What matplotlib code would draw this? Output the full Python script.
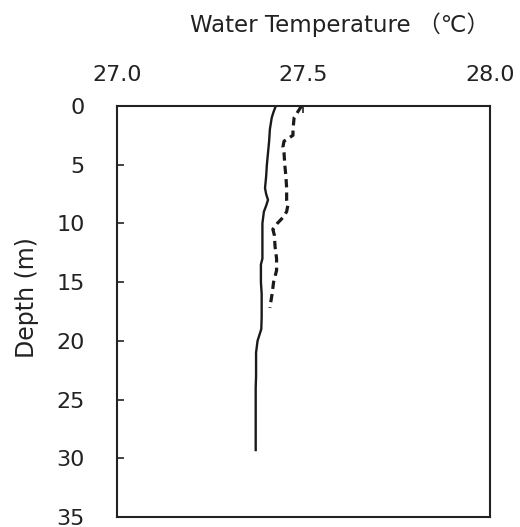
import matplotlib
matplotlib.use("Agg")
import matplotlib.pyplot as plt

plt.rcParams['font.family'] = ['DejaVu Sans', 'Noto Sans CJK JP']

# solid profile
depth_a = [0, 0.5, 1, 2, 3, 4, 5, 6, 7, 7.5, 8, 8.5, 9, 10, 11, 12, 13, 13.5, 14,
           15, 16, 17, 18, 19, 19.5, 20, 20.5, 21, 22, 23, 24, 25, 26, 27, 28, 29.3]
temp_a = [27.426, 27.42, 27.415, 27.41, 27.408, 27.405, 27.402, 27.40, 27.397, 27.40,
          27.405, 27.40, 27.394, 27.39, 27.39, 27.39, 27.39, 27.386, 27.386,
          27.386, 27.388, 27.388, 27.388, 27.387, 27.382, 27.377, 27.375, 27.373,
          27.373, 27.373, 27.372, 27.372, 27.372, 27.372, 27.372, 27.372]

# dashed profile
depth_b = [0, 0.5, 1, 2, 2.5, 3, 3.5, 4, 5, 6, 7, 8, 8.5, 9, 9.5, 10, 10.5, 11,
           12, 13, 14, 14.5, 15, 16, 17.2]
temp_b = [27.495, 27.485, 27.475, 27.472, 27.472, 27.448, 27.445, 27.448, 27.45,
          27.453, 27.455, 27.455, 27.458, 27.455, 27.445, 27.43, 27.418, 27.422,
          27.424, 27.428, 27.428, 27.424, 27.42, 27.416, 27.41]

xticks = [27.0, 27.5, 28.0]
yticks = [0, 5, 10, 15, 20, 25, 30, 35]

fig = plt.figure(figsize=(5.2, 5.27), dpi=100)
ax = fig.add_axes([0.225, 0.019, 0.717, 0.780])

ax.plot(temp_a, depth_a, color='#1a1a1a', lw=1.7)
ax.plot(temp_b, depth_b, color='#1a1a1a', lw=2.3, linestyle=(0, (2.6, 1.6)))

ax.set_xlim(27.0, 28.0)
ax.set_ylim(35, 0)
ax.set_xticks(xticks)
ax.set_xticklabels([f"{t:.1f}" for t in xticks])
ax.set_yticks(yticks)
ax.xaxis.tick_top()
ax.tick_params(axis='x', direction='in', length=5, width=1.2, pad=15, labelsize=16,
               colors='#222222')
ax.tick_params(axis='y', direction='in', length=5, width=1.2, pad=23, labelsize=16,
               colors='#222222')
for s in ax.spines.values():
    s.set_linewidth(1.5)
    s.set_color('#222222')

fig.text(0.052, 0.435, "Depth (m)", fontsize=17, color='#222222', rotation=90,
         ha='center', va='center')
fig.text(0.653, 0.953, "Water Temperature （℃）", fontsize=16.5, color='#222222',
         ha='center', va='center')

fig.savefig("out.png", dpi=100)
